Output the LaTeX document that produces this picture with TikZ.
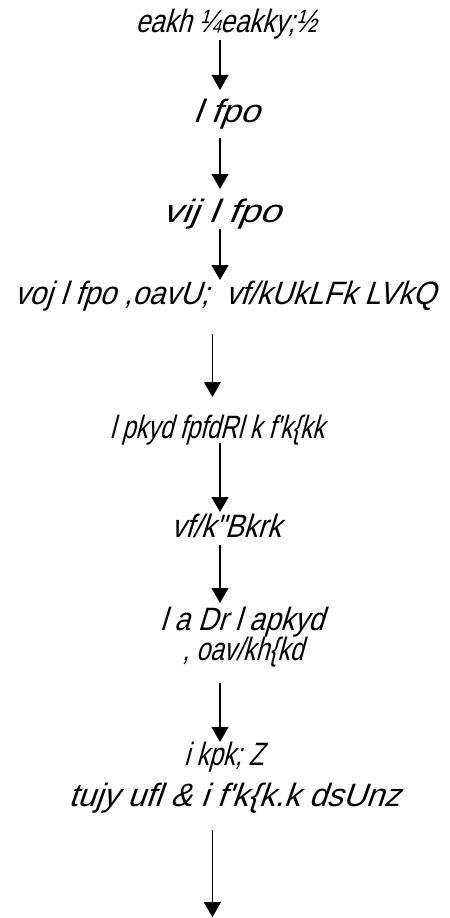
\documentclass[tikz,border=0pt]{standalone}
\usepackage{fontspec}
\usepackage{graphicx}
\usetikzlibrary{arrows.meta}
\newfontfamily\kdfont{Liberation Sans}[FakeSlant=0.3, FakeStretch=0.85]
\newcommand{\kdtext}[2]{\scalebox{#1}[1]{#2}}

\tikzset{
    lbl/.style={font=\kdfont\fontsize{23}{26}\selectfont, inner sep=0pt, anchor=base},
    >={Triangle[length=0.375cm, width=0.42cm]}
}

\begin{document}
\begin{tikzpicture}[line width=1pt]
        \useasboundingbox (0, 0) rectangle (11.225, -22.95);
        \coordinate (col) at (5.5, 0);
        \coordinate (col2) at (5.31, 0);

        \node[lbl] (mantri) at (5.65, -0.825) {\kdtext{0.94}{eakh ¼eakky;½}};
        \node[lbl] (sachiv) at (5.65, -3.075) {\kdtext{1.27}{l fpo}};
        \node[lbl] (aparsachiv) at (5.525, -5.55) {\kdtext{1.38}{vij l fpo}};
        \node[lbl] (avarsachiv) at (5.625, -7.6) {\kdtext{1.07}{voj l fpo ,oavU;\ \ vf/kUkLFk LVkQ}};
        \node[lbl] (sanchalak) at (5.425, -10.95) {\kdtext{0.88}{l pkyd fpfdRl k f'k\{kk}};
        \node[lbl] (adhishthata) at (5.65, -13.425) {\kdtext{1.02}{vf/k"Bkrk}};
        \node[lbl] (sanyukt) at (6.05, -15.75) {\kdtext{1.02}{l a Dr l apkyd}};
        \node[lbl] (adhikshak) at (6.075, -16.5) {\kdtext{0.9}{, oav/kh\{kd}};
        \node[lbl] (pracharya) at (5.6, -19.125) {\kdtext{0.9}{i kpk; Z}};
        \node[lbl] (gnm) at (5.85, -20.15) {\kdtext{1.17}{tujy ufl \& i f'k\{k.k dsUnz}};
        \coordinate (bottom) at (5.31, -22.93);

        \draw[->] ([yshift=-0.175cm]mantri.base -| col) -- ([yshift=0.825cm]sachiv.base -| col);
        \draw[->] ([yshift=-0.375cm]sachiv.base -| col) -- ([yshift=0.825cm]aparsachiv.base -| col);
        \draw[->] ([yshift=-0.175cm]aparsachiv.base -| col) -- ([yshift=0.6cm]avarsachiv.base -| col);
        \draw[->] ([yshift=-0.75cm]avarsachiv.base -| col2) -- ([yshift=1.025cm]sanchalak.base -| col2);
        \draw[->] ([yshift=-0.125cm]sanchalak.base -| col) -- ([yshift=0.625cm]adhishthata.base -| col);
        \draw[->] ([yshift=-0.2cm]adhishthata.base -| col) -- ([yshift=0.675cm]sanyukt.base -| col);
        \draw[->] ([yshift=-0.575cm]adhikshak.base -| col) -- ([yshift=0.575cm]pracharya.base -| col);
        \draw[->] ([yshift=-0.6cm]gnm.base -| col2) -- (bottom);
    \end{tikzpicture}
\end{document}
